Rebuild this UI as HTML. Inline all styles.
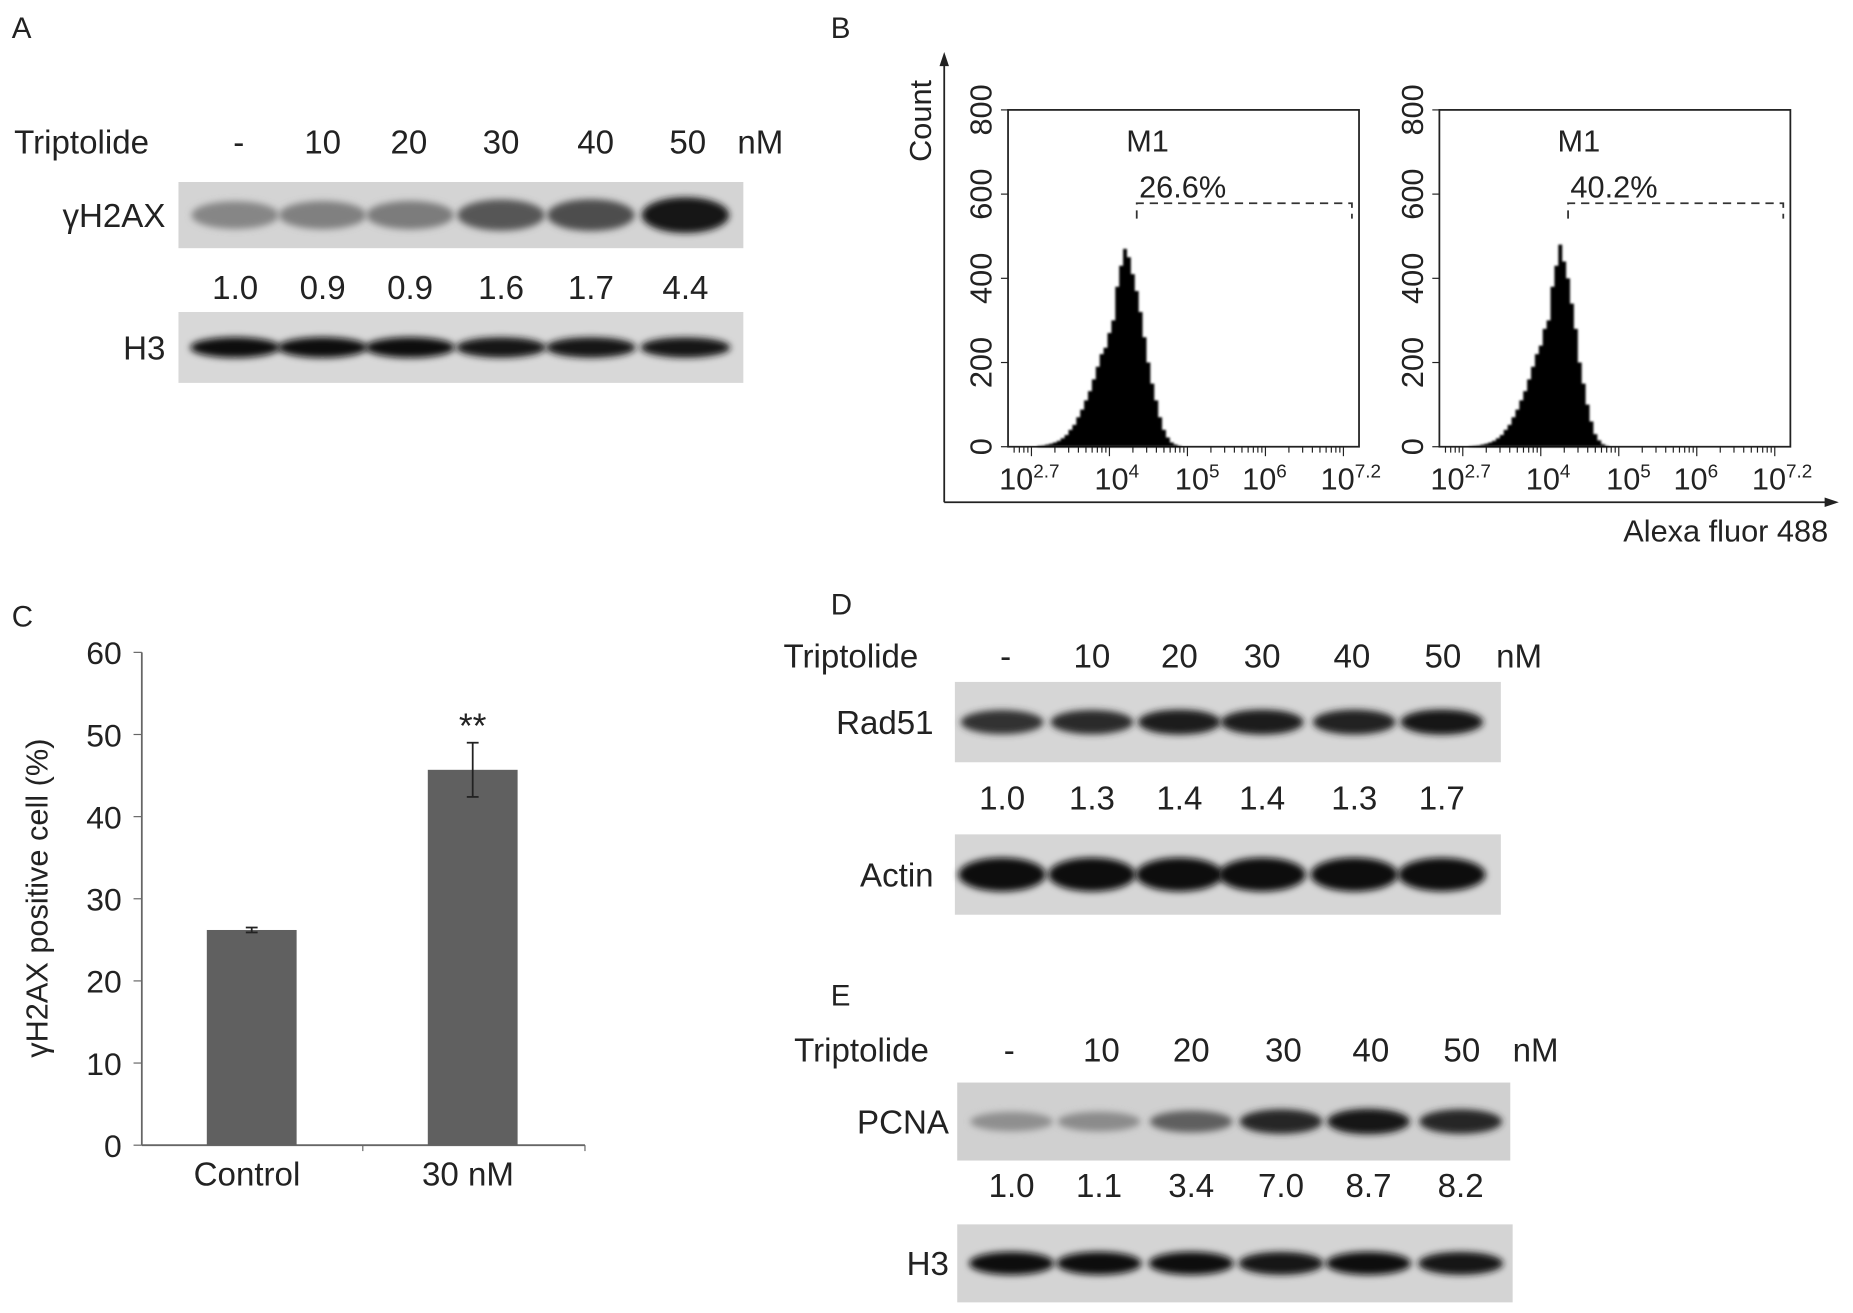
<!DOCTYPE html>
<html><head><meta charset="utf-8"><style>
html,body{margin:0;padding:0;background:#fff}
svg{display:block}
text{font-family:"Liberation Sans","DejaVu Sans",sans-serif;fill:#222}
</style></head><body>
<svg id="fig" width="1853" height="1313" viewBox="0 0 1568 1111" preserveAspectRatio="none">
<defs>
<filter id="blur" x="-20%" y="-50%" width="140%" height="200%"><feGaussianBlur stdDeviation="3"/></filter>
<filter id="blur2" x="-20%" y="-50%" width="140%" height="200%"><feGaussianBlur stdDeviation="1"/></filter>
</defs>
<g id="root"></g>
</svg>
<script>
// ---- data ----
const lanes = ["-", "10", "20", "30", "40", "50"];
const h2axQuant = ["1.0","0.9","0.9","1.6","1.7","4.4"];
const rad51Quant = ["1.0","1.3","1.4","1.4","1.3","1.7"];
const pcnaQuant = ["1.0","1.1","3.4","7.0","8.7","8.2"];
const h2axIntensity = [0.35,0.38,0.4,0.6,0.65,0.95];
const rad51Intensity = [0.8,0.82,0.9,0.9,0.88,0.92];
const pcnaIntensity = [0.3,0.32,0.55,0.85,0.95,0.85];
const barCategories = ["Control","30 nM"];
const barValues = [26.2,45.7];
const barErrors = [0.3,3.3];
const barTicks = [0,10,20,30,40,50,60];
const histLogs = [3.1,3.15,3.2,3.25,3.3,3.35,3.4,3.45,3.5,3.55,3.6,3.65,3.7,3.75,3.8,3.85,3.9,3.95,4.0,4.05,4.1,4.15,4.2,4.25,4.3,4.35,4.4,4.45,4.5,4.55,4.6,4.65,4.7,4.75,4.8,4.85,4.9,4.95];
const hist1Counts = [2,3,5,7,10,14,20,28,40,52,70,88,110,132,160,190,220,235,270,300,380,430,470,450,410,370,320,260,200,150,110,70,40,22,10,5,2,0];
const hist2Counts = [1,2,3,5,7,10,14,20,28,40,52,70,88,110,132,160,190,220,240,280,300,380,430,480,440,400,340,280,200,150,100,60,30,15,6,2,0,0];
const histTicks = [0,200,400,600,800];
const histPct = ["26.6%","40.2%"];

const NS="http://www.w3.org/2000/svg";
const root=document.getElementById('root');
function mk(tag,attrs,parent,txt){const e=document.createElementNS(NS,tag);for(const k in attrs)e.setAttribute(k,attrs[k]);if(txt!==undefined)e.textContent=txt;(parent||root).appendChild(e);return e;}

// ---- panel letters ----
[["A",10,32],["B",703,32],["C",10,530],["D",703,520],["E",703,851]].forEach(p=>{
  const t=mk('text',{x:p[1],y:p[2],'font-size':25},root,p[0]);
  
  
});

// ---- blots ----
function header(x0,y,xs,unitX){
  const t=mk('text',{x:x0,y:y,'font-size':28},root,"Triptolide");
  
  
  lanes.forEach((l,i)=>{const e=mk('text',{x:xs[i],y:y,'font-size':28,'text-anchor':'middle'},root,l);
    
    });
  const u=mk('text',{x:unitX,y:y,'font-size':28},root,"nM");
  
  
}
function blot(name,x,y,w,h,bg,xs,inten,bw,bh,label,lx){
  const g=mk('g',{});
  
  
  mk('rect',{x:x,y:y,width:w,height:h,fill:bg},g);
  inten.forEach((v,i)=>{const c=Math.round(200-190*v);
    const b=mk('ellipse',{cx:xs[i],cy:y+h/2,rx:bw/2,ry:bh/2*(0.7+0.4*v),fill:`rgb(${c},${c},${c})`,filter:'url(#blur)'},g);
    
    });
  const t=mk('text',{x:lx,y:y+h/2+10,'font-size':28,'text-anchor':'end'},root,label);
  
  
}
function quant(xs,y,vals){vals.forEach((v,i)=>{const t=mk('text',{x:xs[i],y:y,'font-size':28,'text-anchor':'middle'},root,v);
  
  });}

const xsA=[199,273,347,424,500,580];
header(12,130,[202,273,346,424,504,582],624);
blot('gh2ax-blot',151,154,478,56,'#d4d4d4',xsA,h2axIntensity,74,28,'γH2AX',140);
quant(xsA,253,h2axQuant);
blot('h3-blot-a',151,264,478,60,'#d8d8d8',xsA,[0.97,0.97,0.97,0.95,0.96,0.93],76,16,'H3',140);

const xsD=[848,924,998,1068,1146,1220];
header(663,565,[851,924,998,1068,1144,1221],1266);
blot('rad51-blot',808,577,462,68,'#d6d6d6',xsD,rad51Intensity,70,20,'Rad51',790);
quant(xsD,685,rad51Quant);
blot('actin-blot',808,706,462,68,'#d6d6d6',xsD,[1,1,1,1,1,0.98],74,26,'Actin',790);

const xsE=[856,930,1008,1084,1158,1236];
header(672,898,[854,932,1008,1086,1160,1237],1280);
blot('pcna-blot',810,916,468,66,'#d0d0d0',xsE,pcnaIntensity,70,20,'PCNA',803);
quant(xsE,1013,pcnaQuant);
blot('h3-blot-e',810,1036,470,66,'#d4d4d4',xsE,[0.97,0.97,0.97,0.96,0.97,0.95],72,18,'H3',803);

// ---- flow histograms ----
const outer=mk('g',{});


mk('line',{x1:799,y1:48,x2:799,y2:425,stroke:'#222','stroke-width':1.5},outer);
mk('polygon',{points:'795,56 799,44 803,56',fill:'#222'},outer);
mk('line',{x1:799,y1:425,x2:1550,y2:425,stroke:'#222','stroke-width':1.5},outer);
mk('polygon',{points:'1544,421 1556,425 1544,429',fill:'#222'},outer);
const ct=mk('text',{x:0,y:0,'font-size':26,transform:'translate(788,137) rotate(-90)'},root,'Count');


const xt=mk('text',{x:1547,y:458,'font-size':26,'text-anchor':'end'},root,'Alexa fluor 488');



function histPanel(x0,counts,pct,name){
  const x1=x0+297,yb=378,yt=93;
  const sx=l=>x0+(l-2.7)/(7.2-2.7)*(x1-x0);
  const sy=c=>yb-c/800*(yb-yt);
  const g=mk('g',{});
  
  
  mk('rect',{x:x0,y:yt,width:x1-x0,height:yb-yt,fill:'none',stroke:'#222','stroke-width':1.5},g);
  histTicks.forEach(v=>{
    mk('line',{x1:x0-6,x2:x0,y1:sy(v),y2:sy(v),stroke:'#222'},g);
    const t=mk('text',{x:0,y:0,'font-size':26,'text-anchor':'middle',transform:`translate(${x0-14},${sy(v)}) rotate(-90)`},g,String(v));
    
    
  });
  for(let d=2;d<=7;d++)for(let m=1;m<10;m++){const l=d+Math.log10(m);if(l<2.7||l>7.2)continue;
    mk('line',{x1:sx(l),x2:sx(l),y1:yb,y2:yb+(m==1?8:5),stroke:'#222'},g);}
  const half=(histLogs[1]-histLogs[0])/2;
  let p=`M${sx(histLogs[0]-half)},${yb}`;
  histLogs.forEach((l,i)=>{const y=sy(counts[i]);p+=` L${sx(l-half)},${y} L${sx(l+half)},${y}`;});
  p+=` L${sx(histLogs[histLogs.length-1]+half)},${yb} Z`;
  const h=mk('path',{d:p,fill:'#000',filter:'url(#blur2)'},g);
  
  
  const lbls=[["2.7",x0+18],["4",x0+92],["5",x0+160],["6",x0+217],["7.2",x0+290]];
  lbls.forEach(a=>{const t=mk('text',{x:a[1],y:414,'font-size':26,'text-anchor':'middle'},g);
    
    
    mk('tspan',{},t,'10');mk('tspan',{dy:-10,'font-size':16},t,a[0]);});
  const gx=sx(4.35);
  mk('path',{d:`M${gx},185 L${gx},172 L${x1-6},172 L${x1-6},185`,fill:'none',stroke:'#333','stroke-width':1.5,'stroke-dasharray':'7,5'},g);
  mk('text',{x:gx+2,y:167,'font-size':26},g,pct);
  mk('text',{x:x0+100,y:128,'font-size':26},g,'M1');
}
histPanel(853,hist1Counts,histPct[0],'histogram-control');
histPanel(1218,hist2Counts,histPct[1],'histogram-30nm');

// ---- bar chart C ----
const cx0=120,cx1=495,cyb=969,cyt=552;
const sy=v=>cyb-v/60*(cyb-cyt);
const bg=mk('g',{});


mk('line',{x1:cx0,x2:cx0,y1:cyt,y2:cyb,stroke:'#666','stroke-width':1.5},bg);
mk('line',{x1:cx0,x2:cx1,y1:cyb,y2:cyb,stroke:'#666','stroke-width':1.5},bg);
mk('line',{x1:307,x2:307,y1:cyb,y2:cyb+5,stroke:'#666'},bg);
mk('line',{x1:cx1,x2:cx1,y1:cyb,y2:cyb+5,stroke:'#666'},bg);
barTicks.forEach(v=>{mk('line',{x1:cx0-7,x2:cx0,y1:sy(v),y2:sy(v),stroke:'#666'},bg);
  const t=mk('text',{x:cx0-17,y:sy(v)+10,'font-size':27,'text-anchor':'end'},bg,String(v));
  
  });
const centers=[213,400];
barCategories.forEach((c,i)=>{
  const r=mk('rect',{x:centers[i]-38,y:sy(barValues[i]),width:76,height:cyb-sy(barValues[i]),fill:'#606060'},bg);
  
  
  const lo=sy(barValues[i]-barErrors[i]),hi=sy(barValues[i]+barErrors[i]);
  mk('line',{x1:centers[i],x2:centers[i],y1:lo,y2:hi,stroke:'#222','stroke-width':1.5},bg);
  mk('line',{x1:centers[i]-5,x2:centers[i]+5,y1:lo,y2:lo,stroke:'#222','stroke-width':1.5},bg);
  mk('line',{x1:centers[i]-5,x2:centers[i]+5,y1:hi,y2:hi,stroke:'#222','stroke-width':1.5},bg);
  const t=mk('text',{x:centers[i]-4,y:1003,'font-size':28,'text-anchor':'middle'},bg,c);
  
  
});
const st=mk('text',{x:centers[1],y:sy(barValues[1]+barErrors[1])-4,'font-size':30,'text-anchor':'middle'},bg,'**');


const yt=mk('text',{x:0,y:0,'font-size':26,'text-anchor':'middle',transform:'translate(40,760) rotate(-90)'},root,'γH2AX positive cell (%)');


</script>
</body></html>
